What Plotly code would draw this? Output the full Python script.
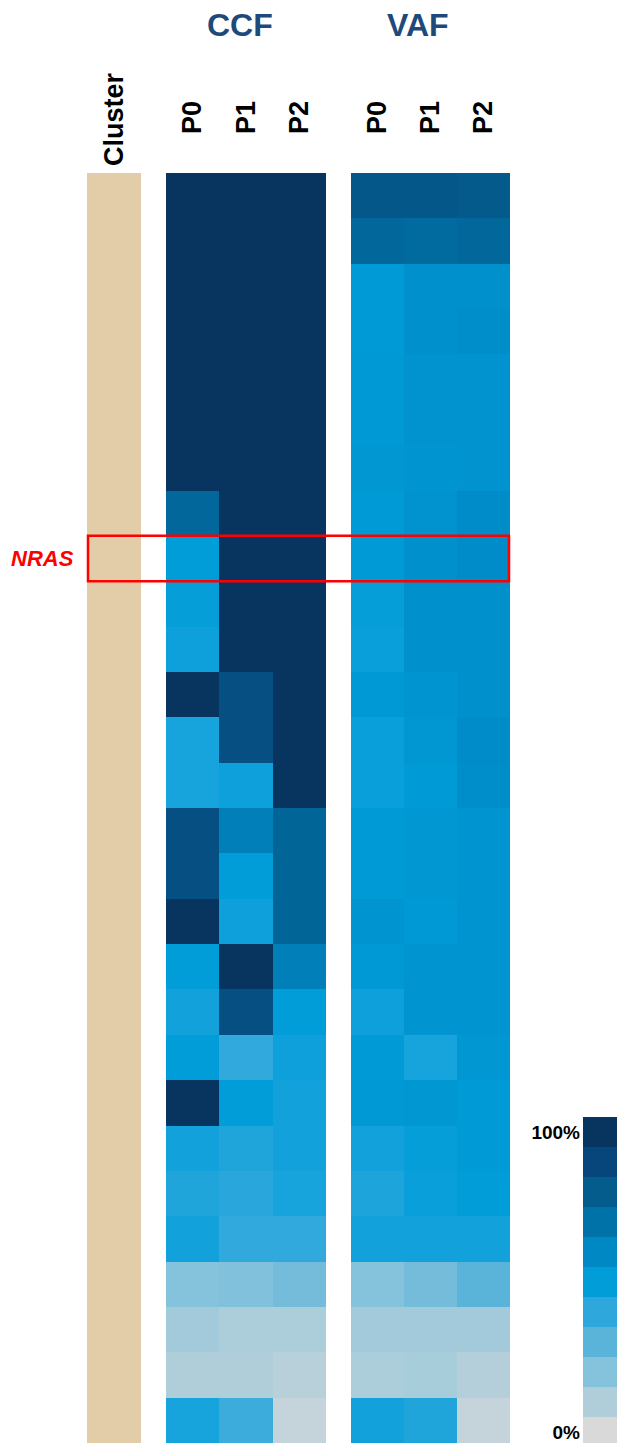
import plotly.graph_objects as go

W, H = 625, 1443
OFF = 8  # page body margin in the browser

# ---------------- data ----------------
row_ids = list(range(28))
highlight_gene = "NRAS"
highlight_row = 8

samples = ["P0", "P1", "P2"]

ccf_p0 = [1, 1, 1, 1, 1, 1, 1, 0.75, 0.5, 0.49, 0.47, 1, 0.45, 0.45, 0.86, 0.86, 1, 0.5,
          0.46, 0.5, 1, 0.46, 0.43, 0.46, 0.2, 0.13, 0.1, 0.45]
ccf_p1 = [1, 1, 1, 1, 1, 1, 1, 1, 1, 1, 1, 0.86, 0.86, 0.47, 0.64, 0.5, 0.47, 1,
          0.86, 0.39, 0.5, 0.43, 0.41, 0.39, 0.21, 0.11, 0.1, 0.37]
ccf_p2 = [1, 1, 1, 1, 1, 1, 1, 1, 1, 1, 1, 1, 1, 1, 0.76, 0.76, 0.76, 0.64,
          0.5, 0.47, 0.46, 0.46, 0.45, 0.39, 0.24, 0.11, 0.08, 0.05]

vaf_p0 = [0.82, 0.75, 0.51, 0.51, 0.52, 0.52, 0.53, 0.51, 0.51, 0.49, 0.48, 0.52, 0.48, 0.48,
          0.51, 0.51, 0.54, 0.52, 0.47, 0.51, 0.52, 0.46, 0.44, 0.46, 0.2, 0.13, 0.11, 0.46]
vaf_p1 = [0.82, 0.73, 0.56, 0.56, 0.55, 0.55, 0.54, 0.55, 0.56, 0.56, 0.56, 0.54, 0.53, 0.51,
          0.53, 0.53, 0.52, 0.54, 0.54, 0.45, 0.53, 0.49, 0.48, 0.46, 0.24, 0.13, 0.12, 0.43]
vaf_p2 = [0.81, 0.75, 0.56, 0.57, 0.55, 0.55, 0.55, 0.58, 0.58, 0.56, 0.56, 0.56, 0.58, 0.57,
          0.54, 0.54, 0.54, 0.54, 0.54, 0.53, 0.51, 0.51, 0.5, 0.46, 0.3, 0.13, 0.09, 0.05]

cluster = [1] * 28

legend_levels = [0.0, 0.1, 0.2, 0.3, 0.4, 0.5, 0.6, 0.7, 0.8, 0.9, 1.0]
legend_colors = ["#d9d9d9", "#b0ceda", "#85c2db", "#5ab4d9", "#2ea8dc", "#009dd9",
                 "#0088c4", "#0072a8", "#045c8d", "#06467a", "#08355f"]
legend_ticktext = ["0%", "100%"]

# ---------------- styling / layout helpers ----------------
FONT = "Liberation Sans, Arial, sans-serif"
colorscale = [[lv, c] for lv, c in zip(legend_levels, legend_colors)]


def px_x(x):
    return (x - OFF) / W


def px_y(y):
    return 1 - (y - OFF) / H


def transpose(*cols):
    return [list(r) for r in zip(*cols)]


fig = go.Figure()

# Cluster column
fig.add_trace(go.Heatmap(z=[[c] for c in cluster], x=["Cluster"], y=row_ids,
                         colorscale=[[0, "#e3cda9"], [1, "#e3cda9"]], showscale=False,
                         xaxis="x", yaxis="y", hoverinfo="skip"))
# CCF
fig.add_trace(go.Heatmap(z=transpose(ccf_p0, ccf_p1, ccf_p2), x=samples, y=row_ids,
                         colorscale=colorscale, zmin=0, zmax=1, showscale=False,
                         xaxis="x2", yaxis="y2"))
# VAF
fig.add_trace(go.Heatmap(z=transpose(vaf_p0, vaf_p1, vaf_p2), x=samples, y=row_ids,
                         colorscale=colorscale, zmin=0, zmax=1, showscale=False,
                         xaxis="x3", yaxis="y3"))
# Discrete legend
fig.add_trace(go.Heatmap(z=[[lv] for lv in legend_levels], x=["scale"],
                         y=list(range(len(legend_levels))),
                         colorscale=colorscale, zmin=0, zmax=1, showscale=False,
                         xaxis="x4", yaxis="y4", hoverinfo="skip"))

main_top, main_bot = 173, 1443
ydom = [px_y(main_bot), px_y(main_top)]
n = len(row_ids)
yrange = [n - 0.5, -0.5]

tickfont = dict(family=FONT, size=27, color="black", weight="bold")

common_y = dict(range=yrange, showticklabels=False, showgrid=False, zeroline=False,
                ticks="", domain=ydom)

fig.update_layout(
    width=W, height=H, margin=dict(l=0, r=0, t=0, b=0),
    paper_bgcolor="white", plot_bgcolor="white",
    xaxis=dict(domain=[px_x(87), px_x(141)], side="top", tickangle=-90,
               tickfont=tickfont, ticklabelstandoff=6, showgrid=False, zeroline=False,
               ticks="", anchor="y"),
    yaxis=dict(anchor="x", **common_y),
    xaxis2=dict(domain=[px_x(166), px_x(326)], side="top", tickangle=-90,
                tickfont=tickfont, ticklabelstandoff=38, showgrid=False, zeroline=False,
                ticks="", anchor="y2"),
    yaxis2=dict(anchor="x2", **common_y),
    xaxis3=dict(domain=[px_x(351), px_x(510)], side="top", tickangle=-90,
                tickfont=tickfont, ticklabelstandoff=38, showgrid=False, zeroline=False,
                ticks="", anchor="y3"),
    yaxis3=dict(anchor="x3", **common_y),
    xaxis4=dict(domain=[px_x(583), px_x(621)], showticklabels=False, showgrid=False,
                zeroline=False, ticks="", anchor="y4"),
    yaxis4=dict(domain=[px_y(1443), px_y(1117)], anchor="x4",
                range=[0.5 - 26 / 30, len(legend_levels) - 0.5],
                tickmode="array", tickvals=[0, len(legend_levels) - 1],
                ticktext=legend_ticktext, ticks="", showgrid=False, zeroline=False,
                tickfont=dict(family=FONT, size=19, color="black", weight="bold"),
                ticklabelstandoff=2),
)

# Group titles
title_font = dict(family=FONT, size=32, color="#1d4a7a", weight="bold")
fig.add_annotation(text="CCF", xref="paper", yref="paper", x=px_x(240), y=px_y(25),
                   xanchor="center", yanchor="middle", showarrow=False, font=title_font)
fig.add_annotation(text="VAF", xref="paper", yref="paper", x=px_x(418), y=px_y(25),
                   xanchor="center", yanchor="middle", showarrow=False, font=title_font)

# Highlighted gene row
fig.add_shape(type="rect", xref="paper", yref="y2",
              x0=px_x(88), x1=px_x(509),
              y0=highlight_row - 0.5, y1=highlight_row + 0.5,
              line=dict(color="#ff0000", width=2.5), fillcolor="rgba(0,0,0,0)")
fig.add_annotation(text="<i>" + highlight_gene + "</i>", xref="paper", yref="y2",
                   x=px_x(76), y=highlight_row, xanchor="right", yanchor="middle",
                   showarrow=False,
                   font=dict(family=FONT, size=22, color="#ff0000", weight="bold"))

fig.write_html("out.html")
